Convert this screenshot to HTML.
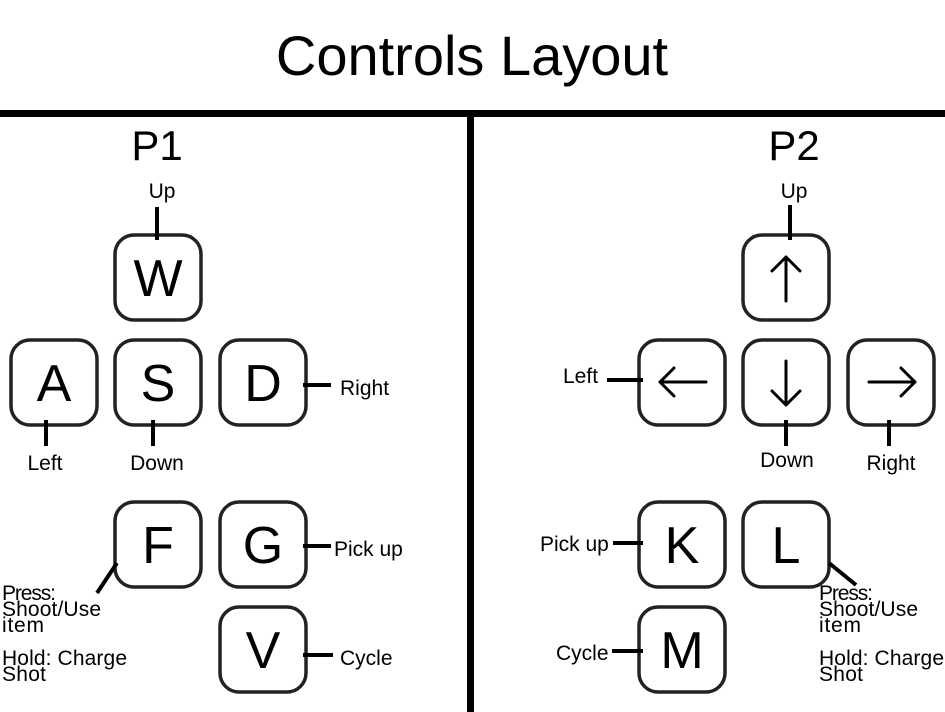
<!DOCTYPE html>
<html><head><meta charset="utf-8"><style>
html,body{margin:0;padding:0;background:#fff;width:945px;height:712px;overflow:hidden}
svg{display:block;font-family:"Liberation Sans",sans-serif}
</style></head><body>
<svg width="945" height="712" viewBox="0 0 945 712">
<text x="472" y="75" font-size="56" text-anchor="middle" fill="#000">Controls Layout</text>
<rect x="0" y="110" width="945" height="7" fill="#000"/>
<rect x="467" y="113" width="7" height="599" fill="#000"/>
<text x="157" y="160" font-size="42" text-anchor="middle">P1</text>
<text x="794" y="160" font-size="42" text-anchor="middle">P2</text>

<g fill="none" stroke="#222" stroke-width="3.5">
<rect x="115" y="235" width="86" height="85" rx="19"/>
<rect x="11" y="340" width="86" height="85" rx="19"/>
<rect x="115" y="340" width="86" height="85" rx="19"/>
<rect x="220" y="340" width="86" height="85" rx="19"/>
<rect x="115" y="502" width="86" height="85" rx="19"/>
<rect x="220" y="502" width="86" height="85" rx="19"/>
<rect x="220" y="607" width="86" height="85" rx="19"/>
<rect x="743" y="235" width="86" height="85" rx="19"/>
<rect x="639" y="340" width="86" height="85" rx="19"/>
<rect x="743" y="340" width="86" height="85" rx="19"/>
<rect x="848" y="340" width="86" height="85" rx="19"/>
<rect x="639" y="502" width="86" height="85" rx="19"/>
<rect x="743" y="502" width="86" height="85" rx="19"/>
<rect x="639" y="607" width="86" height="85" rx="19"/>
</g>

<g font-size="52" text-anchor="middle" fill="#000">
<text x="158" y="296">W</text>
<text x="54" y="401">A</text>
<text x="158" y="401">S</text>
<text x="263" y="401">D</text>
<text x="158" y="563">F</text>
<text x="263" y="563">G</text>
<text x="263" y="668">V</text>
<text x="682" y="563">K</text>
<text x="786" y="563">L</text>
<text x="682" y="668">M</text>
</g>

<g stroke="#000" stroke-width="3" fill="none" stroke-linecap="round" stroke-linejoin="round">
<path d="M786 301V257M772 271L786 257L800 271"/>
<path d="M706 382H660M674 368L660 382L674 396"/>
<path d="M786 361V405M772 391L786 405L800 391"/>
<path d="M869 382H915M901 368L915 382L901 396"/>
</g>

<g stroke="#000" stroke-width="4">
<line x1="157" y1="207" x2="157" y2="240"/>
<line x1="46" y1="420" x2="46" y2="446"/>
<line x1="153" y1="420" x2="153" y2="446"/>
<line x1="303" y1="385" x2="331" y2="385"/>
<line x1="117" y1="563" x2="97" y2="593"/>
<line x1="303" y1="546" x2="331" y2="546"/>
<line x1="303" y1="655" x2="333" y2="655"/>
<line x1="790" y1="205" x2="790" y2="240"/>
<line x1="607" y1="380" x2="643" y2="380"/>
<line x1="786" y1="420" x2="786" y2="446"/>
<line x1="889" y1="420" x2="889" y2="446"/>
<line x1="613" y1="543" x2="643" y2="543"/>
<line x1="612" y1="651" x2="643" y2="651"/>
<line x1="829" y1="563" x2="856" y2="585"/>
</g>

<g font-size="21" fill="#000">
<text x="162" y="198" text-anchor="middle">Up</text>
<text x="45" y="470" text-anchor="middle">Left</text>
<text x="157" y="470" text-anchor="middle">Down</text>
<text x="340" y="395">Right</text>
<text x="334" y="556">Pick up</text>
<text x="340" y="665">Cycle</text>
<text x="2" y="600" textLength="54">Press:</text>
<text x="2" y="616" textLength="99">Shoot/Use</text>
<text x="2" y="632" textLength="42">item</text>
<text x="2" y="665" textLength="125">Hold: Charge</text>
<text x="2" y="681" textLength="44">Shot</text>
<text x="794" y="198" text-anchor="middle">Up</text>
<text x="563" y="383">Left</text>
<text x="787" y="467" text-anchor="middle">Down</text>
<text x="891" y="470" text-anchor="middle">Right</text>
<text x="540" y="551">Pick up</text>
<text x="556" y="660">Cycle</text>
<text x="819" y="600" textLength="54">Press:</text>
<text x="819" y="616" textLength="99">Shoot/Use</text>
<text x="819" y="632" textLength="42">item</text>
<text x="819" y="665" textLength="125">Hold: Charge</text>
<text x="819" y="681" textLength="44">Shot</text>
</g>
</svg>
</body></html>
